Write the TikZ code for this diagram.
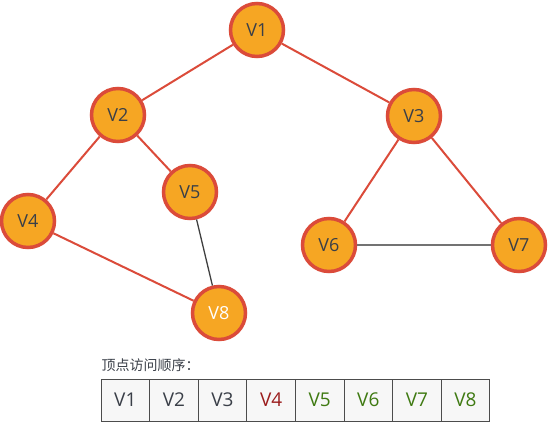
\documentclass[tikz,border=0pt]{standalone}
\usepackage{fontspec}
\setmainfont{Open Sans}
\newfontfamily\cjk{Noto Sans CJK SC}
\usepackage{tikz}
\usetikzlibrary{positioning}
\definecolor{vfill}{HTML}{F6A623}
\definecolor{vline}{HTML}{DB4B3A}
\definecolor{vtext}{HTML}{3A3F48}
\definecolor{cellfill}{HTML}{F7F7F7}
\definecolor{seenred}{HTML}{9B1D1D}
\definecolor{seengreen}{HTML}{3F7A12}

\begin{document}
\begin{tikzpicture}[x=1pt, y=-1pt,
  vertex/.style={circle, draw=vline, line width=3.5pt, fill=vfill, minimum size=53pt, inner sep=0pt, font=\fontsize{18}{20}\selectfont, text=vtext},
  tree/.style={vline, line width=2pt},
  cross/.style={line width=1.3pt},
  cell/.style={draw=black!70, line width=1pt, fill=cellfill, minimum width=48.6pt, minimum height=42pt, inner sep=0pt, outer sep=0pt, font=\fontsize{19}{21}\selectfont, text=vtext}
]
  \useasboundingbox (0,0) rectangle (550,424);

  % graph
  \node[vertex] (v1) at (257,30) {V1};
  \node[vertex] (v2) at (118,115) {V2};
  \node[vertex] (v3) at (414,116) {V3};
  \node[vertex] (v4) at (28,221) {V4};
  \node[vertex] (v5) at (190,192) {V5};
  \node[vertex] (v6) at (329,245) {V6};
  \node[vertex] (v7) at (519,245) {V7};
  \node[vertex, text=white] (v8) at (219,313) {V8};

  \draw[tree] (v1) -- (v2);
  \draw[tree] (v1) -- (v3);
  \draw[tree] (v2) -- (v4);
  \draw[tree] (v2) -- (v5);
  \draw[tree] (v4) -- (v8);
  \draw[tree] (v3) -- (v6);
  \draw[tree] (v3) -- (v7);
  \draw[cross, black!75] (v5) -- (v8);
  \draw[cross, black!55] (v6) -- (v7);

  % visit order
  \node[anchor=west, font=\cjk\fontsize{14}{16}\selectfont, text=vtext] (caption) at (98,365) {顶点访问顺序：};
  \node[cell, anchor=north west] (c1) at (101,379) {V1};
  \node[cell, right=0pt of c1] (c2) {V2};
  \node[cell, right=0pt of c2] (c3) {V3};
  \node[cell, right=0pt of c3, text=seenred] (c4) {V4};
  \node[cell, right=0pt of c4, text=seengreen] (c5) {V5};
  \node[cell, right=0pt of c5, text=seengreen] (c6) {V6};
  \node[cell, right=0pt of c6, text=seengreen] (c7) {V7};
  \node[cell, right=0pt of c7, text=seengreen] (c8) {V8};
\end{tikzpicture}
\end{document}
